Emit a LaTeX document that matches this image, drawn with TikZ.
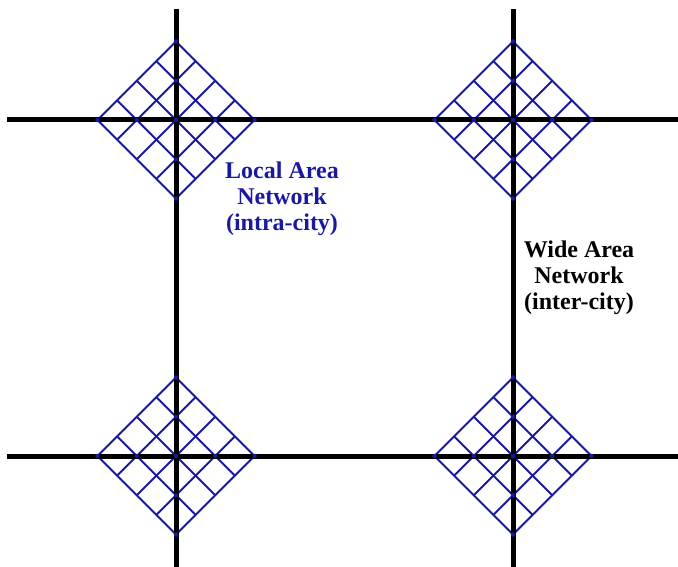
\documentclass[tikz,border=0pt]{standalone}
\usepackage{fontspec}
\setmainfont{Liberation Serif}
\usetikzlibrary{positioning}
\definecolor{netblue}{RGB}{25,25,160}

\begin{document}
\begin{tikzpicture}[x=1pt,y=-1pt]
       \useasboundingbox (0,0) rectangle (678,567);
       \tikzset{road/.style={line width=5pt,black},
                mesh/.style={line width=1.9pt,netblue},
                hub/.style={circle,fill=netblue,inner sep=0pt,minimum size=4.5pt},
                lbl/.style={align=center,font=\fontsize{24}{26}\selectfont\bfseries}}

        % end points of the roads
        \coordinate (t1) at (176,9);
        \coordinate (b1) at (176,567);
        \coordinate (t2) at (513,9);
        \coordinate (b2) at (513,567);
        \coordinate (l1) at (7,120);
        \coordinate (r1) at (678,120);
        \coordinate (l2) at (7,456);
        \coordinate (r2) at (678,456);

       % the four city meshes
       \foreach \cx/\cy in {176/120,513/120,176/456,513/456}{
        \begin{scope}[shift={(\cx,\cy)}]
         \foreach \k in {0,...,4}{
          \draw[mesh] (-78.5+19.625*\k,19.625*\k) -- (19.625*\k,-78.5+19.625*\k);
          \draw[mesh] (-78.5+19.625*\k,-19.625*\k) -- (19.625*\k,78.5-19.625*\k);
         }
        \end{scope}
       }

        \draw[road] (t1) -- (b1);
        \draw[road] (t2) -- (b2);
        \draw[road] (l1) -- (r1);
        \draw[road] (l2) -- (r2);

       % hubs on the roads
       \foreach \cx/\cy in {176/120,513/120,176/456,513/456}{
        \node[hub] at (\cx,\cy) {};
        \node[hub] at (\cx-39.25,\cy) {};
        \node[hub] at (\cx+39.25,\cy) {};
        \node[hub] at (\cx,\cy-39.25) {};
        \node[hub] at (\cx,\cy+39.25) {};
        \node[hub] at (\cx-78.5,\cy) {};
        \node[hub] at (\cx+78.5,\cy) {};
        \node[hub] at (\cx,\cy-78.5) {};
        \node[hub] at (\cx,\cy+78.5) {};
       }

        \node[lbl,text=netblue] (lan) at (282,199) {Local Area\\Network\\(intra-city)};
        \node[lbl] (wan) at (579,278) {Wide Area\\Network\\(inter-city)};
\end{tikzpicture}
\end{document}
